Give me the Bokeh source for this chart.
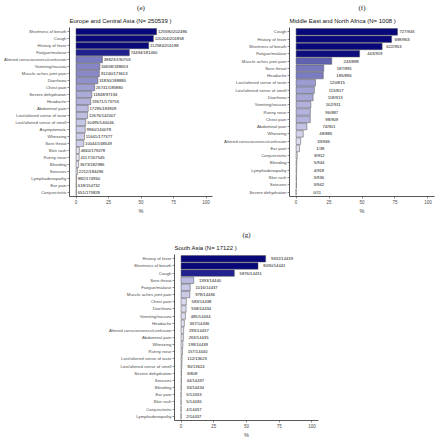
import numpy as np
from bokeh.plotting import figure
from bokeh.models import FactorRange, Range1d, Title, ColumnDataSource, LinearColorMapper, Spacer, FixedTicker
from bokeh.layouts import row, column
from bokeh.embed import file_html
from bokeh.resources import INLINE
from bokeh.core.properties import value

# ---------------- data ----------------
eca_title = "Europe and Central Asia  (N= 250539 )"
eca_symptoms = ["Shortness of breath", "Cough", "History of fever", "Fatigue/malaise",
                "Altered consciousness/confusion", "Vomiting/nausea", "Muscle aches joint pain",
                "Diarrhoea", "Chest pain", "Severe dehydration", "Headache", "Abdominal pain",
                "Lost/altered sense of taste", "Lost/altered sense of smell", "Asymptomatic",
                "Wheezing", "Sore throat", "Skin rash", "Runny nose", "Bleeding", "Seizures",
                "Lymphadenopathy", "Ear pain", "Conjunctivitis"]
eca_num = [125590, 120204, 112584, 74494, 38823, 34658, 31240, 31830, 26741, 11848, 19671, 17295,
           12676, 10495, 9960, 11641, 10044, 4660, 4117, 3673, 2212, 882, 618, 651]
eca_den = [202486, 201858, 201188, 181460, 190703, 188653, 173613, 188880, 185880, 97194, 173753, 183909,
           142007, 140046, 140078, 177377, 168549, 179478, 167545, 182986, 184496, 174950, 154732, 173828]

mena_title = "Middle East and North Africa  (N= 1008 )"
mena_symptoms = ["Cough", "History of fever", "Shortness of breath", "Fatigue/malaise",
                 "Muscle aches joint pain", "Sore throat", "Headache", "Lost/altered sense of taste",
                 "Lost/altered sense of smell", "Diarrhoea", "Vomiting/nausea", "Runny nose", "Chest pain",
                 "Abdominal pain", "Wheezing", "Altered consciousness/confusion", "Ear pain",
                 "Conjunctivitis", "Bleeding", "Lymphadenopathy", "Skin rash", "Seizures",
                 "Severe dehydration"]
mena_num = [727, 698, 622, 443, 243, 187, 185, 120, 113, 118, 102, 96, 98, 74, 48, 33, 1, 8, 5, 4, 3, 3, 0]
mena_den = [945, 963, 953, 919, 898, 891, 896, 815, 817, 913, 911, 887, 909, 901, 885, 946, 38, 912, 944,
            918, 936, 942, 11]

sa_title = "South Asia  (N= 17122 )"
sa_symptoms = ["History of fever", "Shortness of breath", "Cough", "Sore throat", "Fatigue/malaise",
               "Muscle aches joint pain", "Chest pain", "Diarrhoea", "Vomiting/nausea", "Headache",
               "Altered consciousness/confusion", "Abdominal pain", "Wheezing", "Runny nose",
               "Lost/altered sense of taste", "Lost/altered sense of smell", "Severe dehydration",
               "Seizures", "Bleeding", "Ear pain", "Skin rash", "Conjunctivitis", "Lymphadenopathy"]
sa_num = [9332, 8490, 5876, 1393, 1016, 978, 583, 558, 485, 367, 293, 263, 199, 157, 112, 90, 3, 44, 33,
          5, 5, 4, 2]
sa_den = [14439, 14441, 14431, 14440, 14437, 14436, 14438, 14434, 14434, 14436, 14437, 14435, 14439, 14440,
          13623, 13624, 808, 14437, 14434, 12433, 14436, 14437, 14437]

x_ticks = [0, 25, 50, 75, 100]

# ---------------- styling ----------------
stops = np.array([0, 10, 20, 30, 40, 50], dtype=float)
stop_cols = np.array([(238, 238, 248), (184, 184, 224), (125, 125, 194), (85, 85, 172),
                      (35, 35, 145), (8, 8, 122)], dtype=float)
grid = np.linspace(0, 50, 256)
palette = []
for g in grid:
    rgb = [int(round(np.interp(g, stops, stop_cols[:, k]))) for k in range(3)]
    palette.append("#%02x%02x%02x" % tuple(rgb))
mapper = LinearColorMapper(palette=palette, low=0, high=50, high_color=palette[-1])

SANS = "Liberation Sans"
SERIF = "Liberation Serif"


def panel(symptoms, num, den, title, tag, width, height, bl, br, bt, bb, la, lb, tag_off):
    pct = 100.0 * np.array(num, dtype=float) / np.array(den, dtype=float)
    lab = [f"{n}/{d}" for n, d in zip(num, den)]
    src = ColumnDataSource(dict(y=symptoms, pct=pct, lab=lab, lx=la + lb * pct))
    p = figure(width=width, height=height, output_backend="svg", toolbar_location=None,
               y_range=FactorRange(factors=list(reversed(symptoms)), range_padding=0.1,
                                   range_padding_units="absolute"),
               x_range=Range1d(-5, 105),
               min_border_left=bl, min_border_right=br, min_border_top=bt, min_border_bottom=bb)
    p.hbar(y="y", left=0, right="pct", height=0.9, source=src,
           fill_color={"field": "pct", "transform": mapper}, line_color="#555555", line_width=0.5)
    p.text(x="lx", y="y", text="lab", source=src, text_font=value(SANS), text_font_size="4.2px",
           text_align="left", text_baseline="middle", text_color="#111111")
    p.add_layout(Title(text=title, align="left", text_font=SANS, text_font_size="6px",
                       text_font_style="normal", text_color="#111111", standoff=8), "above")
    p.add_layout(Title(text=tag, align="center", offset=tag_off, text_font=SERIF, text_font_size="7px",
                       text_font_style="normal", text_color="#111111", standoff=0), "above")
    p.outline_line_color = None
    p.xgrid.visible = False
    p.ygrid.visible = False
    p.xaxis.ticker = FixedTicker(ticks=x_ticks)
    p.xaxis.axis_label = "%"
    p.xaxis.axis_label_text_font_style = "normal"
    p.xaxis.axis_label_text_font = SANS
    p.xaxis.axis_label_text_font_size = "5.5px"
    p.xaxis.axis_label_standoff = 1
    for ax in (p.xaxis, p.yaxis):
        ax.axis_line_color = "#444444"
        ax.axis_line_width = 0.9
        ax.major_tick_line_color = "#444444"
        ax.major_tick_line_width = 0.6
        ax.major_tick_out = 2
        ax.major_tick_in = 0
        ax.minor_tick_line_color = None
        ax.major_label_text_font = SANS
        ax.major_label_text_color = "#4d4d4d"
        ax.major_label_standoff = 1
    p.xaxis.major_label_text_font_size = "4.5px"
    p.yaxis.major_label_text_font_size = "4.3px"
    p.background_fill_color = "white"
    p.border_fill_color = "white"
    return p


p1 = panel(eca_symptoms, eca_num, eca_den, eca_title, "(e)", 217, 218, 64, 5, 27, 21, 1.0, 1.0, -31)
p2 = panel(mena_symptoms, mena_num, mena_den, mena_title, "(f)", 218, 218, 72, 1, 27, 22, 13.0, 0.85, -35.5)
p3 = panel(sa_symptoms, sa_num, sa_den, sa_title, "(g)", 217, 222, 67, 4, 36, 16, 4.0, 1.0, -32.6)

layout = column(row(p1, p2), row(Spacer(width=105, height=222), p3))
open("out.html", "w").write(file_html(layout, INLINE))
